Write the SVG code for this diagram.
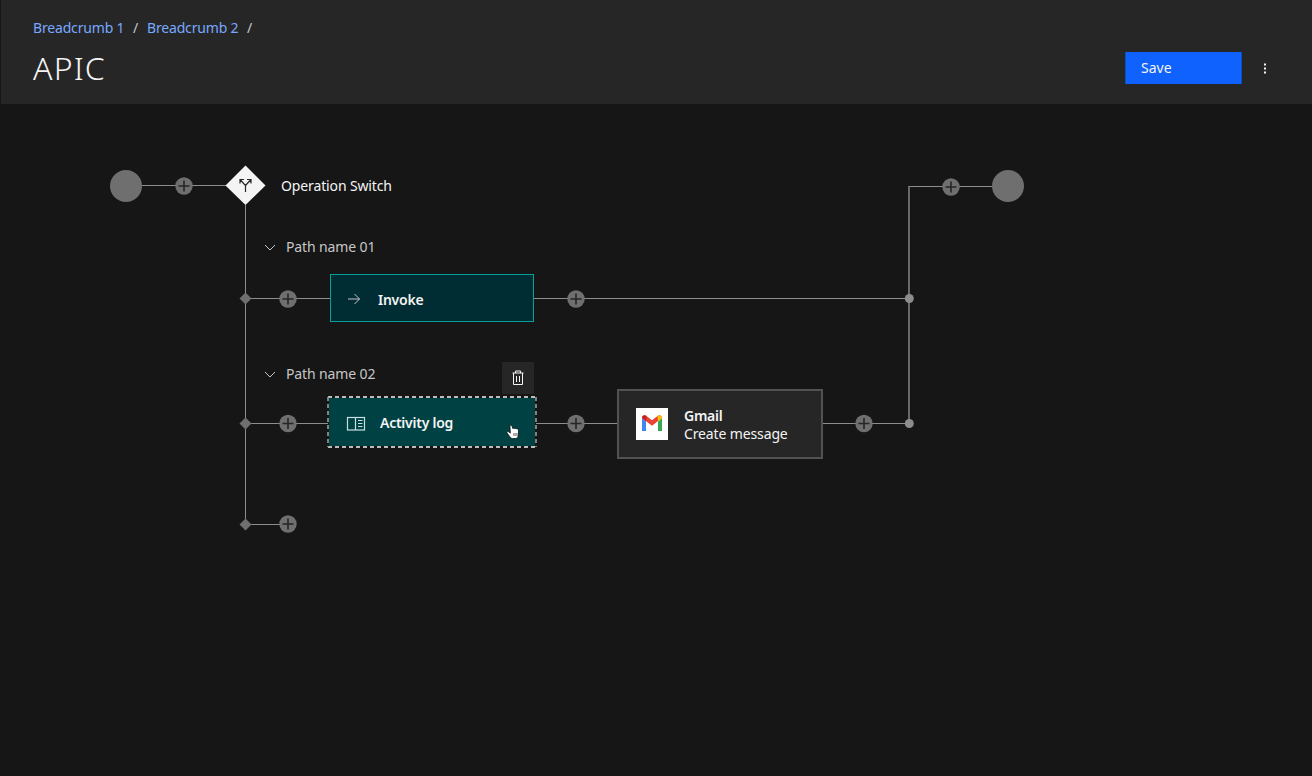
<svg xmlns="http://www.w3.org/2000/svg" width="1312" height="776" viewBox="0 0 1312 776">
<style>
text{font-family:"Noto Sans","Liberation Sans",sans-serif;font-size:14px;fill:#f4f4f4;letter-spacing:-.13px}
.crumb{fill:#78a9ff;letter-spacing:-.17px}
.sep{fill:#c6c6c6}
.path{fill:#c6c6c6}
.b{font-weight:600;letter-spacing:-.25px}
.ln{fill:none;stroke:#8d8d8d;stroke-width:1}
.ic{fill:none;stroke:#f4f4f4;stroke-width:1}
.big{fill:#6f6f6f}
.pl{fill:#6f6f6f}
.plm{fill:none;stroke:#262626;stroke-width:1.6}
</style>
<defs>
<g id="plus"><circle class="pl" r="8.7"/><path class="plm" d="M-5.500 0H5.500M0-5.500V5.500"/></g>
</defs>
<rect width="1312" height="776" fill="#161616"/>
<g id="header">
<rect x="1" width="1311" height="104" fill="#262626"/>
<text class="crumb" x="33" y="33">Breadcrumb 1</text>
<text class="sep" x="133" y="33">/</text>
<text class="crumb" x="147" y="33">Breadcrumb 2</text>
<text class="sep" x="247" y="33">/</text>
<text x="33" y="80" style="font-size:32px;font-weight:300;letter-spacing:1.2px">APIC</text>
</g>
<g id="save">
<rect x="1125" y="52" width="117" height="32" fill="#0f62fe"/>
<path d="M1125.500 52V84M1241.500 52V84" stroke="#0b4fc4" fill="none"/>
<text x="1141" y="73" style="letter-spacing:0">Save</text>
</g>
<g id="overflow" fill="#f4f4f4"><rect x="1264" y="63.500" width="2" height="2"/><rect x="1264" y="67.500" width="2" height="2"/><rect x="1264" y="71.500" width="2" height="2"/></g>
<g id="connectors">
<path class="ln" d="M142 185.500H226M245.500 205V524M245.500 298.500H330M534 298.500H909M245.500 423.500H328M536 423.500H618M822 423.500H909M245.500 524.500H288M909 186.500H992"/>
<path d="M909 423V186" fill="none" stroke="#8d8d8d" stroke-width="1.400"/>
<path d="M245.500 292.500l6 6-6 6-6-6z" fill="#6f6f6f"/>
<path d="M245.500 417.500l6 6-6 6-6-6z" fill="#6f6f6f"/>
<path d="M245.500 518.500l6 6-6 6-6-6z" fill="#6f6f6f"/>
<circle cx="909.300" cy="298.500" r="4.500" fill="#8d8d8d"/>
<circle cx="909.300" cy="423.500" r="4.500" fill="#8d8d8d"/>
<use href="#plus" x="184" y="186"/>
<use href="#plus" x="288" y="299"/>
<use href="#plus" x="576" y="299"/>
<use href="#plus" x="288" y="423.500"/>
<use href="#plus" x="576" y="423.500"/>
<use href="#plus" x="864" y="423.500"/>
<use href="#plus" x="288" y="524"/>
<use href="#plus" x="951" y="187"/>
</g>
<g id="start"><circle class="big" cx="126" cy="186" r="16"/></g>
<g id="end"><circle class="big" cx="1008" cy="186" r="16"/></g>
<g id="switch">
<path d="M245.500 165.500l20 20-20 19.500-20-19.500z" fill="#f4f4f4"/>
<path d="M245.500 192V185.500L240.500 180M245.500 185.500L250.500 180M240 183.500V179.500H244M247 179.500H251V183.500" fill="none" stroke="#262626" stroke-width="1.200"/>
<text x="281" y="191">Operation Switch</text>
</g>
<g id="path1">
<path d="M265 245l5 5 5-5" fill="none" stroke="#c6c6c6"/>
<text class="path" x="286" y="252">Path name 01</text>
</g>
<g id="invoke">
<rect x="330.500" y="274.500" width="203" height="47" fill="#002d33" stroke="#08a09b"/>
<path d="M348 299H359.500M354.500 294l5 5-5 5" fill="none" stroke="#c6c6c6"/>
<text class="b" x="378" y="305">Invoke</text>
</g>
<g id="path2">
<path d="M265 372l5 5 5-5" fill="none" stroke="#c6c6c6"/>
<text class="path" x="286" y="379">Path name 02</text>
</g>
<g id="delete">
<rect x="502" y="362" width="32" height="32" fill="#262626"/>
<path class="ic" d="M512.500 373H523.500M515.500 373V371H520.500V373M513.500 373V384.500H522.500V373M516.500 376V382M519.500 376V382"/>
</g>
<g id="activity">
<rect x="329" y="398" width="206" height="48" fill="#004144"/>
<path d="M328 397H536M328 447H536" fill="none" stroke="#f4f4f4" stroke-width="1.400" stroke-dasharray="4 3"/>
<path d="M328 397V447M536 397V447" fill="none" stroke="#8d8d8d" stroke-width="1.800" stroke-dasharray="4 3"/>
<rect x="347.500" y="417.500" width="17" height="12.500" fill="none" stroke="#c6dfdf" stroke-width="1.200"/>
<path d="M355.500 417.500V430M358 420.500H362.500M358 423.500H362.500M358 426.500H362.500" fill="none" stroke="#c6dfdf" stroke-width="1.200"/>
<text class="b" x="380" y="428">Activity log</text>
<path d="M510 427c-.6-1.800 1.400-2.400 2-.8l1 2.600c.3-1 1.800-.9 2 .1.300-.9 1.600-.8 1.900.3.400-.6 1.600-.3 1.600.8v4.500c0 2-1.200 4-3.300 4h-2.500c-1.300 0-2.200-.8-2.900-1.800l-2.700-3.600c-.7-1.200.6-2.200 1.800-1.200l1.400 1.200z" fill="#fff" stroke="#111" stroke-width=".8"/>
<path d="M514 433v3M516 433v3M518 433v3" stroke="#111" stroke-width=".7" fill="none"/>
</g>
<g id="gmail">
<rect x="618" y="390" width="204" height="68" fill="#262626" stroke="#525252" stroke-width="2"/>
<rect x="636" y="408" width="32" height="32" fill="#fff"/>
<path d="M642 418v13h4v-9.500z" fill="#4285f4"/>
<path d="M662 418v13h-4v-9.500z" fill="#34a853"/>
<path d="M642 418c0-2.500 2.500-3.500 4.500-2l5.500 4.300 5.500-4.300c2-1.500 4.500-.5 4.500 2l-10 7.800z" fill="#ea4335"/>
<path d="M642 418c0-2.500 2.500-3.500 4.500-2l-.5 5.500z" fill="#c5221f"/>
<path d="M662 418c0-2.500-2.500-3.500-4.500-2l.5 5.500z" fill="#fbbc04"/>
<text class="b" x="684" y="421">Gmail</text>
<text x="684" y="439">Create message</text>
</g>
</svg>
